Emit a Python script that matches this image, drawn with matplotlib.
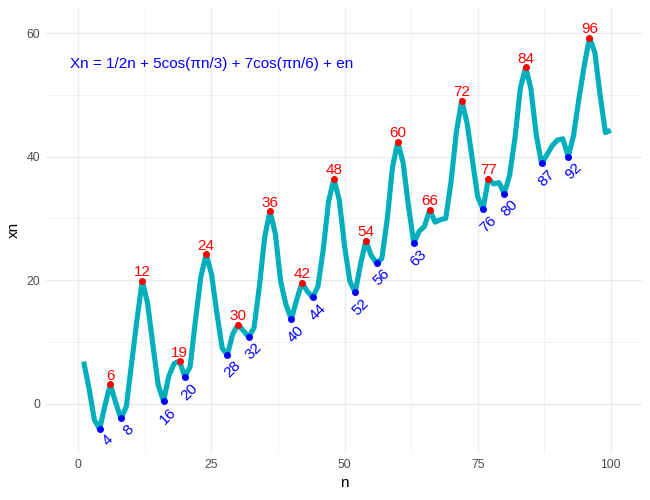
import numpy as np
import matplotlib
matplotlib.use('Agg')
import matplotlib.pyplot as plt
from matplotlib.ticker import MultipleLocator

plt.rcParams['font.family'] = ['Liberation Sans', 'DejaVu Sans']

n = list(range(1, 101))
xn = [6.8, 2.5, -2.6, -4.1, -0.3, 3.1, 0.2, -2.4, -0.5, 6.5,
      13.5, 19.9, 16.3, 9.5, 3.0, 0.4, 4.5, 6.5, 6.9, 4.3,
      6.0, 13.5, 20.5, 24.2, 21.0, 14.8, 9.0, 7.9, 11.3, 12.8,
      11.8, 10.8, 12.3, 19.0, 27.0, 31.2, 27.5, 19.8, 16.0, 13.7,
      16.8, 19.6, 18.2, 17.2, 19.0, 25.0, 32.8, 36.4, 33.0, 25.5,
      19.8, 18.0, 22.6, 26.4, 24.0, 22.8, 23.5, 29.8, 38.3, 42.4,
      39.0, 32.0, 26.0, 27.9, 28.7, 31.4, 29.4, 29.8, 30.0, 36.0,
      44.0, 49.1, 45.5, 39.5, 33.5, 31.5, 36.4, 35.6, 35.8, 34.0,
      37.0, 43.0, 51.0, 54.5, 51.0, 43.5, 38.9, 40.3, 41.8, 42.7,
      42.9, 40.0, 43.4, 49.3, 54.7, 59.3, 56.9, 49.9, 43.9, 44.3]

peaks = [6, 12, 19, 24, 30, 36, 42, 48, 54, 60, 66, 72, 77, 84, 96]
troughs = [4, 8, 16, 20, 28, 32, 40, 44, 52, 56, 63, 76, 80, 87, 92]

formula = 'Xn = 1/2n + 5cos(πn/3) + 7cos(πn/6) + en'

fig = plt.figure(figsize=(6.5, 5), dpi=100)
ax = fig.add_axes([0.0708, 0.0934, 0.9164, 0.8932])

ax.plot(n, xn, color='#00AFBB', linewidth=3.7, solid_capstyle='butt',
        solid_joinstyle='round', zorder=2)

px = [n[i - 1] for i in peaks]
py = [xn[i - 1] for i in peaks]
tx = [n[i - 1] for i in troughs]
ty = [xn[i - 1] for i in troughs]
ax.plot(px, py, 'o', color='red', markersize=4, zorder=3)
ax.plot(tx, ty, 'o', color='blue', markersize=4, zorder=3)

for x, y in zip(px, py):
    ax.annotate(str(x), (x, y), xytext=(0, 3.2), textcoords='offset points',
                ha='center', va='baseline', color='red', fontsize=11)
for x, y in zip(tx, ty):
    ax.annotate(str(x), (x, y), xytext=(7.9, -6.2), textcoords='offset points',
                ha='right', va='center', rotation=45, rotation_mode='anchor',
                color='blue', fontsize=11)

ax.text(25, 55, formula, color='blue', fontsize=11, ha='center', va='center')

ax.set_xlim(-6.07, 105.8)
ax.set_ylim(-8.05, 64.3)
ax.xaxis.set_major_locator(MultipleLocator(25))
ax.xaxis.set_minor_locator(MultipleLocator(12.5))
ax.yaxis.set_major_locator(MultipleLocator(20))
ax.yaxis.set_minor_locator(MultipleLocator(10))

ax.grid(True, which='major', color='#EBEBEB', linewidth=1.0)
ax.grid(True, which='minor', color='#EBEBEB', linewidth=0.5)
ax.set_axisbelow(True)
for s in ax.spines.values():
    s.set_visible(False)
ax.tick_params(which='both', length=0, labelsize=8.8, labelcolor='#4D4D4D', pad=4)

ax.set_xlabel('n', fontsize=11)
ax.set_ylabel('xn', fontsize=11)

fig.savefig('out.png', dpi=100)
